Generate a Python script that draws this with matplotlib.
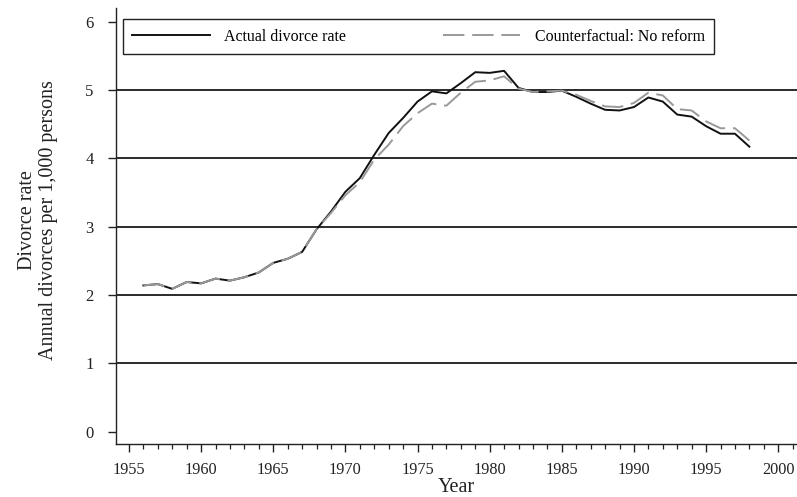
import numpy as np
import matplotlib
matplotlib.use("Agg")
import matplotlib.pyplot as plt
from matplotlib.ticker import MultipleLocator

plt.rcParams['font.family'] = ['Liberation Serif', 'DejaVu Serif']

years = np.arange(1956, 1999)
actual = [2.14, 2.16, 2.09, 2.19, 2.17, 2.24, 2.21, 2.26, 2.33, 2.47,
          2.53, 2.63, 2.96, 3.22, 3.51, 3.71, 4.05, 4.37, 4.59, 4.83,
          4.98, 4.95, 5.10, 5.26, 5.25, 5.28, 5.03, 4.97, 4.97, 4.99,
          4.90, 4.80, 4.71, 4.70, 4.75, 4.89, 4.83, 4.64, 4.61, 4.47,
          4.36, 4.36, 4.17]
no_reform = [2.14, 2.16, 2.09, 2.19, 2.17, 2.24, 2.21, 2.26, 2.33, 2.47,
             2.53, 2.63, 2.96, 3.20, 3.46, 3.65, 3.98, 4.20, 4.47, 4.66,
             4.80, 4.77, 4.96, 5.12, 5.14, 5.20, 5.02, 4.97, 4.98, 4.99,
             4.93, 4.84, 4.76, 4.75, 4.81, 4.96, 4.92, 4.72, 4.70, 4.54,
             4.44, 4.44, 4.26]
grid_levels = [1, 2, 3, 4, 5]

fig = plt.figure(figsize=(7.97, 4.97), dpi=100)
ax = fig.add_axes([0.1455, 0.1076, 0.8545, 0.8764])

for g in grid_levels:
    ax.axhline(g, color='#1a1a1a', lw=1.3, zorder=1)

ax.plot(years, actual, color='#111111', lw=1.4, label='Actual divorce rate', zorder=2)
ax.plot(years, no_reform, color='#999999', lw=1.4, dashes=(11, 4),
        label='Counterfactual: No reform', zorder=3)

ax.set_xlim(1954.1, 2001.3)
ax.set_ylim(-0.173, 6.2)
ax.set_yticks(range(0, 7))
ax.xaxis.set_major_locator(MultipleLocator(5))
ax.xaxis.set_minor_locator(MultipleLocator(1))

for s in ['top', 'right']:
    ax.spines[s].set_visible(False)
for s in ['left', 'bottom']:
    ax.spines[s].set_color('#222222')
    ax.spines[s].set_linewidth(1.0)

ax.tick_params(axis='x', which='major', length=6, width=1, pad=7,
               labelsize=11.7, colors='#222222')
ax.tick_params(axis='x', which='minor', length=3.5, width=0.9, colors='#222222')
ax.tick_params(axis='y', which='major', length=6, width=1, pad=10,
               labelsize=12, colors='#222222')

ax.set_xlabel('Year', fontsize=14.5, labelpad=0.5, color='#222222')
fig.text(38 / 797, 1 - 220.5 / 497,
         'Divorce rate\nAnnual divorces per 1,000 persons',
         rotation=90, ha='center', va='center', multialignment='center',
         fontsize=14.5, color='#222222', linespacing=1.15)

leg = ax.legend(loc='lower left', bbox_to_anchor=(0.0103, 0.894, 0.868, 0.09),
                mode='expand', ncol=2, fontsize=11.4, frameon=True,
                fancybox=False, handlelength=4.9, handletextpad=0.9,
                borderaxespad=0, borderpad=0.6)
leg.get_frame().set_edgecolor('#222222')
leg.get_frame().set_linewidth(1.0)
leg.get_frame().set_alpha(1)

fig.savefig('out.png', dpi=100)
